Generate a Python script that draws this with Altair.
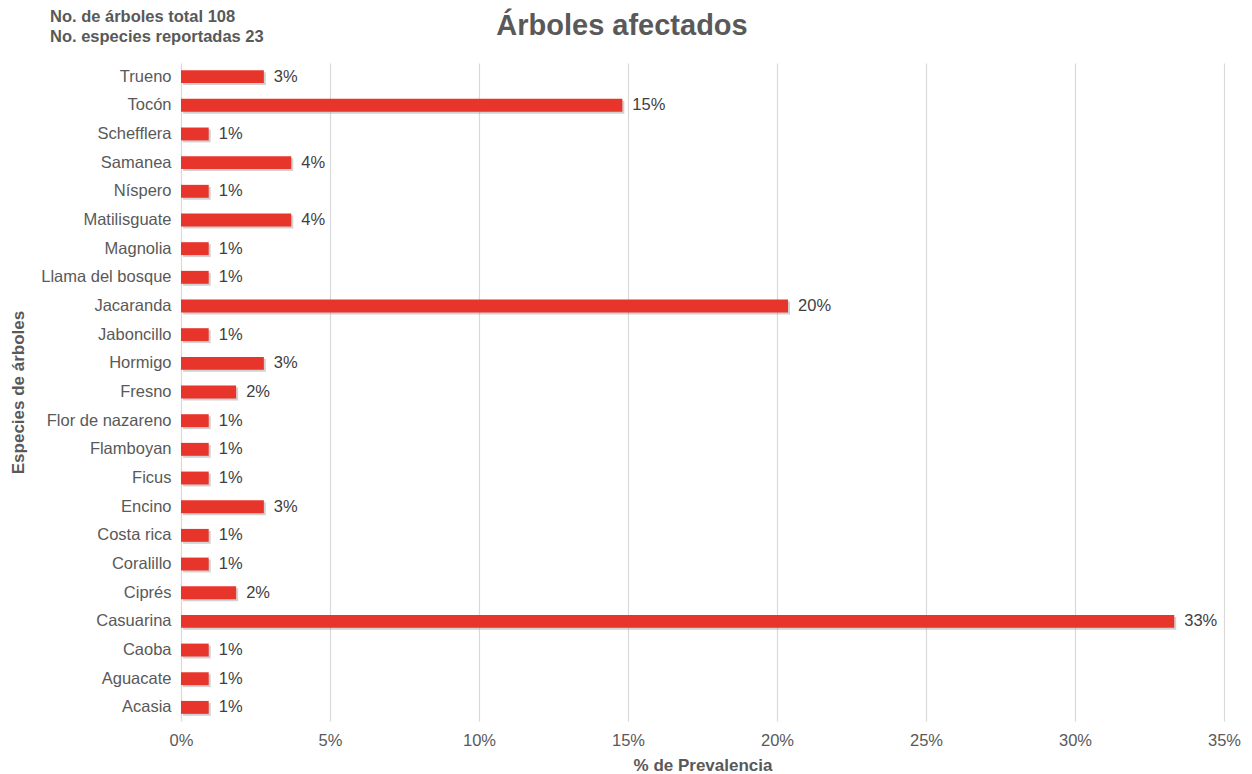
import altair as alt
import pandas as pd

especies = ["Trueno", "Tocón", "Schefflera", "Samanea", "Níspero", "Matilisguate",
            "Magnolia", "Llama del bosque", "Jacaranda", "Jaboncillo", "Hormigo",
            "Fresno", "Flor de nazareno", "Flamboyan", "Ficus", "Encino", "Costa rica",
            "Coralillo", "Ciprés", "Casuarina", "Caoba", "Aguacate", "Acasia"]
prevalencia = [2.78, 14.81, 0.93, 3.70, 0.93, 3.70, 0.93, 0.93, 20.37, 0.93, 2.78,
               1.85, 0.93, 0.93, 0.93, 2.78, 0.93, 0.93, 1.85, 33.33, 0.93, 0.93, 0.93]
etiquetas = ["3%", "15%", "1%", "4%", "1%", "4%", "1%", "1%", "20%", "1%", "3%",
             "2%", "1%", "1%", "1%", "3%", "1%", "1%", "2%", "33%", "1%", "1%", "1%"]
x_ticks = [0, 5, 10, 15, 20, 25, 30, 35]
titulo = "Árboles afectados"
info_lineas = "No. de árboles total 108\nNo. especies reportadas 23"

df = pd.DataFrame({"especie": especies, "valor": prevalencia, "etiqueta": etiquetas})

FONT = "Liberation Sans"
GREY = "#595959"
LBL = 16.5

y_enc = alt.Y("especie:N", sort=especies, title="Especies de árboles",
              scale=alt.Scale(paddingInner=0.55, paddingOuter=0.25),
              axis=alt.Axis(labelFontSize=LBL, labelColor=GREY, labelFont=FONT,
                            titleFont=FONT, titleFontSize=17, titleColor=GREY,
                            titleFontWeight="bold", titleX=-163, titleY=329,
                            titleAngle=-90, titleAlign="center", titleBaseline="middle",
                            ticks=False, domain=False, labelPadding=10))
x_enc = alt.X("valor:Q", title="% de Prevalencia",
              scale=alt.Scale(domain=[0, 35], nice=False),
              axis=alt.Axis(values=x_ticks, labelExpr="datum.value + '%'",
                            labelFontSize=LBL, labelColor=GREY, labelFont=FONT,
                            labelFlush=False,
                            titleFont=FONT, titleFontSize=17, titleColor=GREY,
                            titleFontWeight="bold", titleY=44, titleBaseline="middle",
                            grid=True, gridColor="#d9d9d9", gridWidth=1.2,
                            ticks=False, domain=False, labelPadding=11))

base = alt.Chart(df)

shadow = base.mark_bar(color="#9a9a9a", opacity=0.45, xOffset=2, yOffset=2).encode(
    x=x_enc, y=y_enc)
bars = base.mark_bar(color="#E8352C").encode(x=x_enc, y=y_enc)
text = base.mark_text(align="left", baseline="middle", dx=10, fontSize=LBL,
                      font=FONT, color="#404040").encode(
    x=x_enc, y=y_enc, text="etiqueta:N")

info = alt.Chart(pd.DataFrame({"t": [info_lineas]})).mark_text(
    align="left", baseline="middle", fontSize=16.5, fontWeight="bold", font=FONT,
    color=GREY, lineBreak="\n", lineHeight=20
).encode(x=alt.value(-131), y=alt.value(-46), text="t:N")

title_mark = alt.Chart(pd.DataFrame({"t": [titulo]})).mark_text(
    align="center", baseline="middle", fontSize=29, fontWeight="bold", font=FONT,
    color=GREY
).encode(x=alt.value(441), y=alt.value(-37), text="t:N")

chart = alt.layer(shadow, bars, text, info, title_mark).properties(
    width=1043, height=658,
    background="white",
    autosize=alt.AutoSizeParams(type="none"),
    padding={"left": 173, "top": 55, "right": 20, "bottom": 52},
).configure_view(stroke=None)

chart.save("out.html", embed_options={"renderer": "svg", "actions": False})
